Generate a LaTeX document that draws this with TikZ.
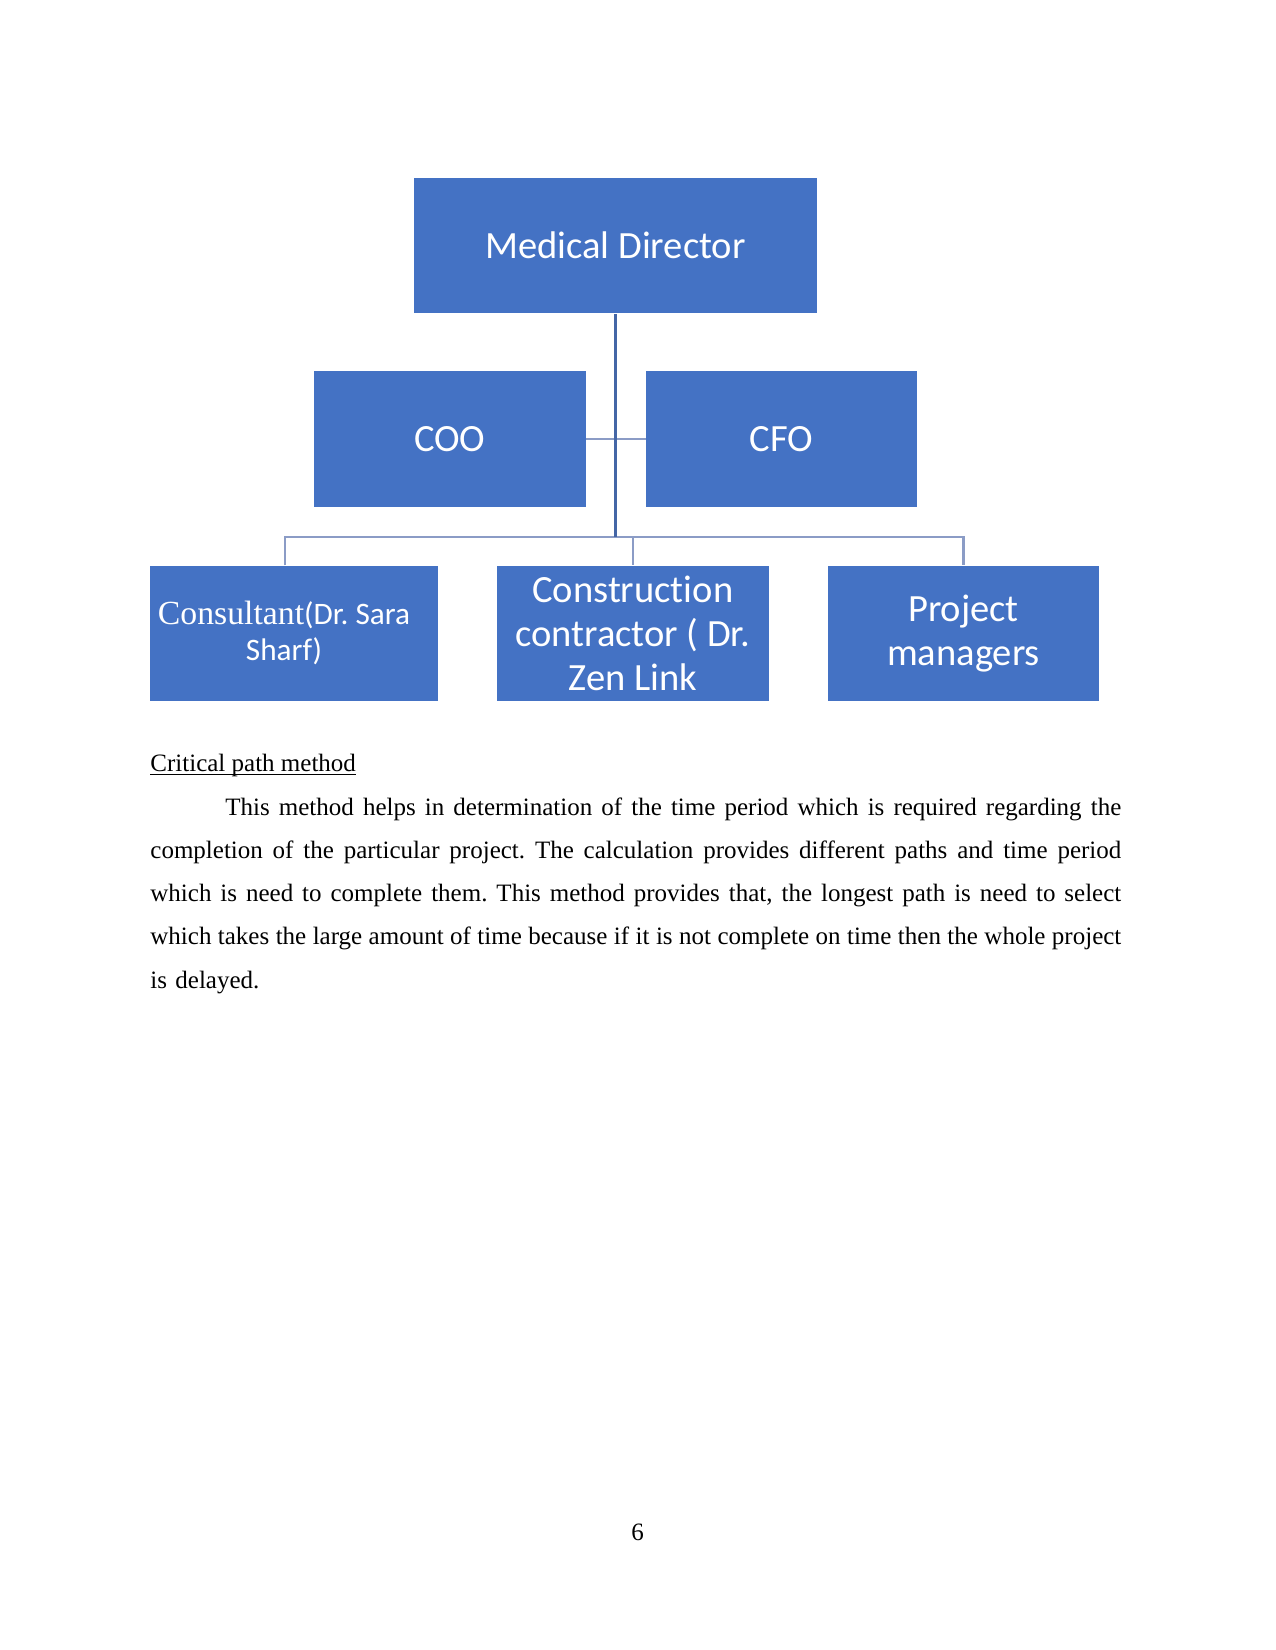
\documentclass[tikz,border=0pt]{standalone}
\usepackage{fontspec}
\setmainfont{Liberation Serif}
\newfontfamily\boxfont[Ligatures=NoCommon]{Carlito}
\definecolor{boxblue}{HTML}{4472C4}
\definecolor{trunkblue}{HTML}{4466A6}
\definecolor{branchblue}{HTML}{8B9CC6}
\newcommand\fullline[2]{\leavevmode\hbox to #1{\spaceskip=3pt plus 8pt minus 1.6pt\relax #2}}
\frenchspacing
\begin{document}
\begin{tikzpicture}[x=0.48pt,y=-0.48pt,
  orgbox/.style={fill=boxblue, draw=none, text=white, align=center, inner sep=0pt,
    font=\boxfont\fontsize{18.5}{21}\selectfont},
  boxlabel/.style={text=white, align=center, inner sep=0pt},
  trunk/.style={draw=trunkblue, line width=1.05pt},
  branch/.style={draw=branchblue, line width=1pt},
  bodytext/.style={inner sep=0pt, font=\fontsize{12}{20.78}\selectfont}]
\fill[white] (0,0) rectangle (1275,1650);
\useasboundingbox (0,0) rectangle (1275,1650);

% boxes
\node[orgbox, minimum width=193.4pt, minimum height=65pt] (md) at (615.5,245.7) {Medical Director};
\node[orgbox, minimum width=130.8pt, minimum height=65.2pt] (coo) at (449.8,439.4) {COO};
\node[orgbox, minimum width=130.1pt, minimum height=65.2pt] (cfo) at (781.5,439.4) {CFO};
\node[orgbox, minimum width=137.8pt, minimum height=64.8pt] (cons) at (294,633.2) {};
\node[boxlabel, font=\boxfont\fontsize{15}{17.3}\selectfont] (constext) at (284,632.5)
  {{\fontspec{Liberation Serif}\scalebox{1.08}[1.08]{Consultant}}(Dr. Sara\\Sharf)};
\node[orgbox, minimum width=130.8pt, minimum height=64.8pt] (ctr) at (632.8,633.2)
  {Construction\\contractor ( Dr.\\Zen Link};
\node[orgbox, minimum width=130.1pt, minimum height=64.8pt] (pm) at (963.5,633.2)
  {Project\\managers};

% connectors
\coordinate (bus) at (615.5,537.3);
\draw[branch] (coo) -- (cfo);
\draw[branch] ([xshift=-4.5pt]cons.north) |- (bus) -| (pm.north);
\draw[branch] (bus) -| (ctr.north);
\draw[trunk] (md.south) -- (bus);

% text below
\node[bodytext, anchor=base west] (head) at (150,771.7) {Critical path method};
\draw[line width=0.6pt] ([yshift=-1.4pt]head.base west) -- ([yshift=-1.4pt]head.base east);
\node[bodytext, anchor=base west, text width=466pt, align=left] (body) at (150,815)
{\hspace*{36pt}\fullline{430pt}{This method helps in determination of the time period which is required regarding the}\\
\fullline{466pt}{completion of the particular project. The calculation provides different paths and time period}\\
\fullline{466pt}{which is need to complete them. This method provides that, the longest path is need to select}\\
\fullline{466pt}{which takes the large amount of time because if it is not complete on time then the whole project}\\
is delayed.};

\node[bodytext, anchor=base] (pagenum) at (637.5,1540) {6};
\end{tikzpicture}
\end{document}
